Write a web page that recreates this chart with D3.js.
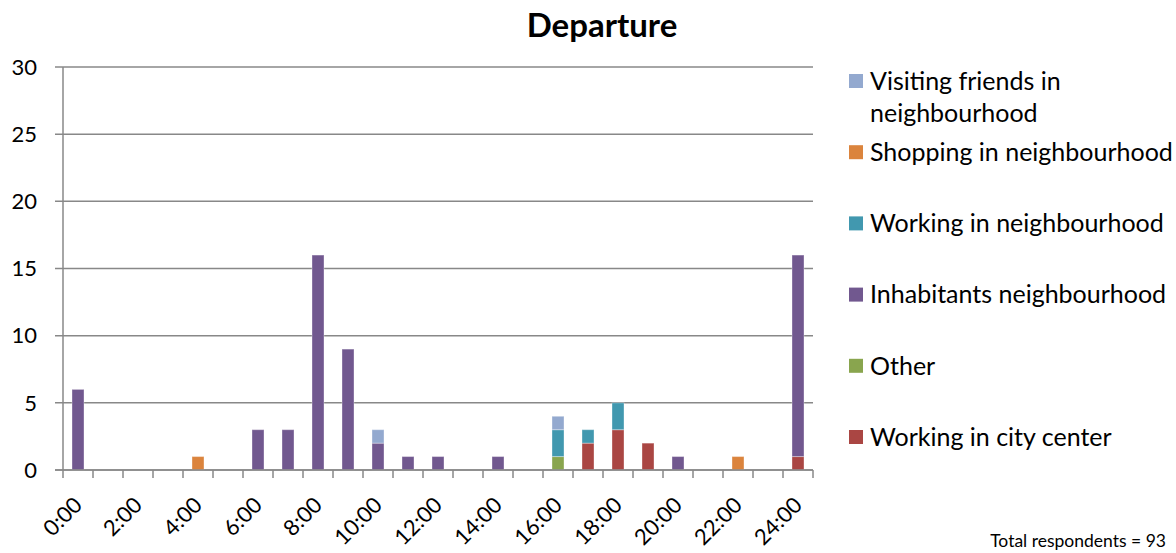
<!DOCTYPE html>
<html><head><meta charset="utf-8">
<script src="https://cdn.jsdelivr.net/npm/d3@7"></script>
<style>body{margin:0;background:#fff;} svg{display:block;font-family:Lato,"Open Sans",sans-serif;}</style>
</head><body>
<svg id="chart" width="1176" height="553"></svg>
<script>
const hours = ["0:00","1:00","2:00","3:00","4:00","5:00","6:00","7:00","8:00","9:00","10:00","11:00","12:00","13:00","14:00","15:00","16:00","17:00","18:00","19:00","20:00","21:00","22:00","23:00","24:00"];
const tickLabels = ["0:00","2:00","4:00","6:00","8:00","10:00","12:00","14:00","16:00","18:00","20:00","22:00","24:00"];
const yTicks = [0,5,10,15,20,25,30];
// stack order bottom -> top
const seriesNames = ["Working in city center","Other","Inhabitants neighbourhood","Working in neighbourhood","Shopping in neighbourhood","Visiting friends in neighbourhood"];
const seriesColors = ["#AA4643","#89A54E","#71588F","#4198AF","#DB843D","#93A9CF"];
const workingCityCenter = [0,0,0,0,0,0,0,0,0,0,0,0,0,0,0,0,0,2,3,2,0,0,0,0,1];
const other             = [0,0,0,0,0,0,0,0,0,0,0,0,0,0,0,0,1,0,0,0,0,0,0,0,0];
const inhabitants       = [6,0,0,0,0,0,3,3,16,9,2,1,1,0,1,0,0,0,0,0,1,0,0,0,15];
const workingNeighbour  = [0,0,0,0,0,0,0,0,0,0,0,0,0,0,0,0,2,1,2,0,0,0,0,0,0];
const shopping          = [0,0,0,0,1,0,0,0,0,0,0,0,0,0,0,0,0,0,0,0,0,0,1,0,0];
const visiting          = [0,0,0,0,0,0,0,0,0,0,1,0,0,0,0,0,1,0,0,0,0,0,0,0,0];
const seriesValues = [workingCityCenter, other, inhabitants, workingNeighbour, shopping, visiting];

(function(){
const svg = d3.select("#chart");
const L = 63, R = 813, T = 67, B = 470;
const x = d3.scaleBand().domain(hours).range([L, R]).paddingInner(0.6).paddingOuter(0.3);
const xb = d3.scaleBand().domain(hours).range([L, R]);
const y = d3.scaleLinear().domain([0,30]).range([B, T]);

// gridlines
svg.append("g").selectAll("line").data(yTicks).join("line")
  .attr("x1", L - 8).attr("x2", R).attr("y1", d=>y(d)).attr("y2", d=>y(d))
  .attr("stroke", "#888").attr("stroke-width", 1.5);

// stacked data
const rows = hours.map((h,i)=>{const o={hour:h}; seriesNames.forEach((s,k)=>o[s]=seriesValues[k][i]); return o;});
const stack = d3.stack().keys(seriesNames)(rows);
svg.append("g").selectAll("g").data(stack).join("g")
  .attr("fill", (d,i)=>seriesColors[i])
  .selectAll("rect").data(d=>d.filter(p=>p[1]-p[0]>0)).join("rect")
  .attr("x", d=>x(d.data.hour)).attr("width", x.bandwidth())
  .attr("y", d=>y(d[1])).attr("height", d=>y(d[0])-y(d[1]))
  .attr("stroke", "rgba(255,255,255,0.35)").attr("stroke-width", 1);

// y axis
svg.append("line").attr("x1", L).attr("x2", L).attr("y1", T).attr("y2", B)
  .attr("stroke", "#888").attr("stroke-width", 1.5);
svg.append("g").selectAll("text").data(yTicks).join("text")
  .attr("x", 37).attr("y", d=>y(d)).attr("dy", "0.35em").attr("text-anchor", "end")
  .attr("font-size", 22).attr("fill", "#000").text(d=>d);

// x axis
svg.append("line").attr("x1", L - 8).attr("x2", R).attr("y1", B).attr("y2", B)
  .attr("stroke", "#888").attr("stroke-width", 1.5);
const tickPos = hours.map(h=>xb(h)).concat([R]);
svg.append("g").selectAll("line").data(tickPos).join("line")
  .attr("x1", d=>d).attr("x2", d=>d).attr("y1", B).attr("y2", B + 8)
  .attr("stroke", "#888").attr("stroke-width", 1.5);
svg.append("g").selectAll("text").data(tickLabels).join("text")
  .attr("transform", d=>`translate(${xb(d)+xb.bandwidth()/2},${B+31}) rotate(-45)`)
  .attr("text-anchor", "end").attr("dy", "0.35em")
  .attr("font-size", 22).attr("fill", "#000").text(d=>d);

// title
svg.append("text").attr("x", 602).attr("y", 37).attr("text-anchor", "middle")
  .attr("font-size", 33).attr("font-weight", "bold").attr("fill", "#000").text("Departure");

// legend (top -> bottom is reverse of stack)
const legendItems = seriesNames.map((n,i)=>({name:n,color:seriesColors[i]})).reverse();
const legendLines = {"Visiting friends in neighbourhood":["Visiting friends in","neighbourhood"]};
const lg = svg.append("g").selectAll("g").data(legendItems).join("g")
  .attr("transform", (d,i)=>`translate(849,${81 + i*71.2})`);
lg.append("rect").attr("x", 0).attr("y", -7).attr("width", 14).attr("height", 14).attr("fill", d=>d.color);
lg.each(function(d){
  const lines = legendLines[d.name] || [d.name];
  const t = d3.select(this).append("text").attr("x", 21).attr("y", 0)
    .attr("font-size", 25).attr("fill", "#000");
  lines.forEach((l,k)=>t.append("tspan").attr("x",21).attr("dy", k===0?"0.35em":32).text(l));
});

svg.append("text").attr("x", 1166).attr("y", 547).attr("text-anchor", "end")
  .attr("font-size", 17.5).attr("fill", "#000").text("Total respondents = 93");
})();
</script>
</body></html>
